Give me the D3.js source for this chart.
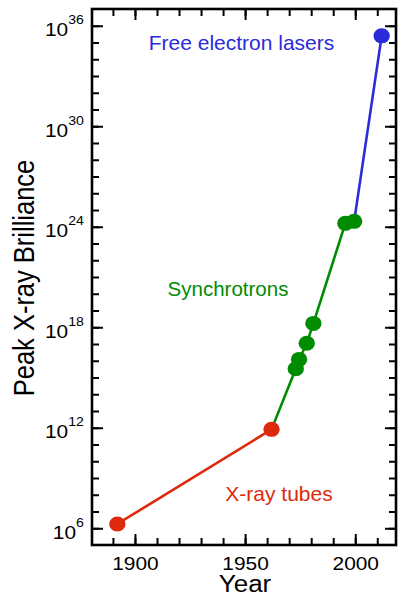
<!DOCTYPE html>
<html>
<head>
<meta charset="utf-8">
<script src="https://cdn.jsdelivr.net/npm/d3@7"></script>
<style>
  body { margin: 0; background: #fff; }
  svg { display: block; font-family: "Liberation Sans", Arial, sans-serif; }
</style>
</head>
<body>
<svg id="chart" width="399" height="596"></svg>
<script>
// data
var tubeYears = [1892, 1962];
var tubeBrill = [1.8e6, 8e11];
var syncYears = [1973, 1974.5, 1978, 1981, 1995.5, 1999.5];
var syncBrill = [3.3e15, 1.2e16, 1.1e17, 1.7e18, 1.6e24, 2.1e24];
var felYears = [2012];
var felBrill = [2.5e35];
var yearTicks = [1900, 1950, 2000];
var expTicks = [6, 12, 18, 24, 30, 36];

var red = "#dd2a0c", green = "#008c00", blue = "#2b2bd9";
var sx = 1.13; // text in the picture is a bit wider than tall

// plot box (note: "top" is taken by window.top)
var pLeft = 92, pRight = 396, pTop = 9, pBottom = 545;
var svg = d3.select("#chart");

var x = d3.scaleLinear().domain([1880.5, 2018.5]).range([pLeft, pRight]);
var y = d3.scaleLog().domain([1e5, 1e37]).range([pBottom, pTop]);

var minorYears = d3.range(1890, 2020, 10);
var minorExp = d3.range(6, 37).map(function (e) { return Math.pow(10, e); });
var majorExp = expTicks.map(function (e) { return Math.pow(10, e); });

function cleanAxis(g) {
  g.select(".domain").remove();
  g.selectAll(".tick line").attr("stroke", "#000").attr("stroke-width", 2);
}

// minor ticks on all four sides
svg.append("g").attr("transform", "translate(0," + pBottom + ")")
  .call(d3.axisBottom(x).tickValues(minorYears).tickSize(-7).tickFormat(""))
  .call(cleanAxis);
svg.append("g").attr("transform", "translate(0," + pTop + ")")
  .call(d3.axisTop(x).tickValues(minorYears).tickSize(-7).tickFormat(""))
  .call(cleanAxis);
svg.append("g").attr("transform", "translate(" + pLeft + ",0)")
  .call(d3.axisLeft(y).tickValues(minorExp).tickSize(-7).tickFormat(""))
  .call(cleanAxis);
svg.append("g").attr("transform", "translate(" + pRight + ",0)")
  .call(d3.axisRight(y).tickValues(minorExp).tickSize(-7).tickFormat(""))
  .call(cleanAxis);

// major ticks
var xAxis = svg.append("g").attr("transform", "translate(0," + pBottom + ")")
  .call(d3.axisBottom(x).tickValues(yearTicks).tickSize(-11).tickPadding(11.5).tickFormat(d3.format("d")))
  .call(cleanAxis);
xAxis.selectAll(".tick text")
  .attr("font-family", "Liberation Sans, Arial, sans-serif")
  .attr("font-size", 18.5).attr("fill", "#000")
  .attr("transform", "scale(" + sx + ",1)");

svg.append("g").attr("transform", "translate(0," + pTop + ")")
  .call(d3.axisTop(x).tickValues(yearTicks).tickSize(-11).tickFormat(""))
  .call(cleanAxis);
svg.append("g").attr("transform", "translate(" + pRight + ",0)")
  .call(d3.axisRight(y).tickValues(majorExp).tickSize(-11).tickFormat(""))
  .call(cleanAxis);

var yAxis = svg.append("g").attr("transform", "translate(" + pLeft + ",0)")
  .call(d3.axisLeft(y).tickValues(majorExp).tickSize(-11).tickPadding(8).tickFormat(""))
  .call(cleanAxis);
yAxis.selectAll(".tick text").each(function (d) {
  var t = d3.select(this)
    .attr("font-family", "Liberation Sans, Arial, sans-serif")
    .attr("fill", "#000")
    .attr("text-anchor", "end")
    .attr("x", -7.2)
    .attr("y", 10).attr("dy", null)
    .attr("transform", "scale(" + sx + ",1)");
  t.append("tspan").attr("font-size", 18.5).text("10");
  t.append("tspan").attr("font-size", 12.5).attr("dy", -12)
    .text(Math.round(Math.log10(d)));
});

// frame
svg.append("rect")
  .attr("x", pLeft).attr("y", pTop)
  .attr("width", pRight - pLeft).attr("height", pBottom - pTop)
  .attr("fill", "none").attr("stroke", "#000").attr("stroke-width", 2.6);

// axis titles
svg.append("text")
  .attr("transform", "translate(245,592) scale(" + sx + ",1)")
  .attr("text-anchor", "middle").attr("font-size", 23).text("Year");
svg.append("text")
  .attr("transform", "translate(34,278) scale(" + sx + ",1) rotate(-90)")
  .attr("text-anchor", "middle").attr("font-size", 25.5).text("Peak X-ray Brilliance");

// series lines
var line = d3.line().x(function (d) { return x(d[0]); }).y(function (d) { return y(d[1]); });
var tubePts = d3.zip(tubeYears, tubeBrill);
var syncPts = d3.zip(syncYears, syncBrill);
var felPts = d3.zip(felYears, felBrill);

svg.append("path").datum(tubePts)
  .attr("d", line).attr("fill", "none").attr("stroke", red).attr("stroke-width", 2.6);
svg.append("path").datum([tubePts[tubePts.length - 1]].concat(syncPts))
  .attr("d", line).attr("fill", "none").attr("stroke", green).attr("stroke-width", 2.6);
svg.append("path").datum([syncPts[syncPts.length - 1]].concat(felPts))
  .attr("d", line).attr("fill", "none").attr("stroke", blue).attr("stroke-width", 2.6);

function dots(pts, color) {
  svg.append("g").selectAll("ellipse").data(pts).enter().append("ellipse")
    .attr("cx", function (d) { return x(d[0]); })
    .attr("cy", function (d) { return y(d[1]); })
    .attr("rx", 8.2).attr("ry", 7.5)
    .attr("fill", color);
}
dots(tubePts, red);
dots(syncPts, green);
dots(felPts, blue);

// annotations
svg.append("text").attr("x", 241.5).attr("y", 50).attr("text-anchor", "middle")
  .attr("font-size", 21).attr("fill", blue).text("Free electron lasers");
svg.append("text").attr("x", 228).attr("y", 296).attr("text-anchor", "middle")
  .attr("font-size", 20.5).attr("fill", green).text("Synchrotrons");
svg.append("text").attr("x", 279).attr("y", 501).attr("text-anchor", "middle")
  .attr("font-size", 21).attr("fill", red).text("X-ray tubes");
</script>
</body>
</html>
